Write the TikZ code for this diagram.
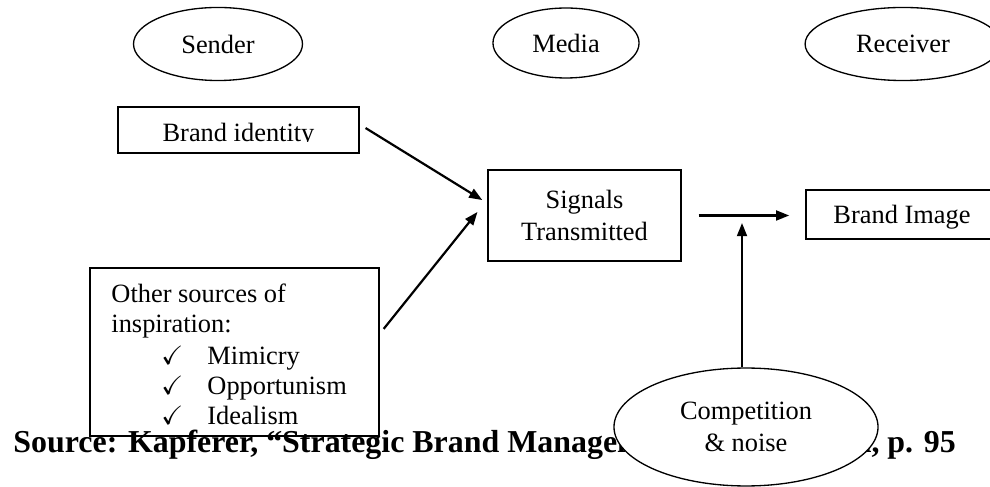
\documentclass[tikz,border=0pt]{standalone}
\usepackage{fontspec}
\setmainfont{Liberation Serif}
\usepackage{amssymb}
\usetikzlibrary{shapes.geometric,arrows.meta}

\tikzset{
	txt/.style={font=\fontsize{12pt}{14.5pt}\selectfont, inner sep=0pt},
	role/.style={txt, ellipse, draw, fill=white, line width=0.6pt, align=center},
	box/.style={txt, rectangle, draw, line width=0.6pt, align=center},
	flow/.style={-{Triangle[length=6pt,width=4.5pt]}, line width=1pt}
}

\begin{document}
\begin{tikzpicture}[x=0.4545pt, y=-0.4545pt]
	\clip (0,0) rectangle (990,487);
	%parties
	\node[role, minimum width=76.8pt, minimum height=33.2pt] (sender) at (218,44) {Sender};
	\node[role, minimum width=66.4pt, minimum height=31.8pt] (media) at (566,43) {Media};
	\node[role, minimum width=89pt, minimum height=33.2pt] (receiver) at (903,44) {Receiver};
	
	%boxes
	\node[box, minimum width=109.5pt, minimum height=20.9pt] (brandid) at (238.5,130) {};
	\begin{scope}
		\clip (118,107) rectangle (359,142);
		\node[txt, anchor=base] (brandidtext) at (238.5,142) {Brand identity};
	\end{scope}
	\node[box, minimum width=87.7pt, minimum height=41.4pt] (signals) at (584.5,215.5) {Signals\\Transmitted};
	\node[box, text depth=0pt, minimum width=87.3pt, minimum height=22.3pt] (brandimg) at (902,214.5) {Brand Image};
	\node[box, minimum width=131.4pt, minimum height=76.4pt] (other) at (234.5,352) {};
	\node[txt, anchor=base west] (othertitle) at (111,303) {Other sources of};
	\node[txt, anchor=base west] (otherinsp) at (111,333) {inspiration:};
	\foreach \word [count=\i] in {Mimicry, Opportunism, Idealism}{
		\node[txt, anchor=base west] (tick\i) at (161, 335+30*\i) {$\checkmark$};
		\node[txt, anchor=base west] (item\i) at (207, 335+30*\i) {\word};
	}
	
	%source line, partly hidden
	\node[anchor=base west, inner sep=0pt, font=\bfseries\fontsize{14.5pt}{17pt}\selectfont] (source) at (13,453)
		{Source: Kapferer, “Strategic Brand Management”, 2nd edition, p. 95};
	\node[role, minimum width=120pt, minimum height=53.6pt] (compet) at (746,427) {Competition\\\& noise};
	
	%arrows
	\draw[flow] ([xshift=2.7pt,yshift=0.9pt]brandid.east) -- ([xshift=-2.3pt,yshift=7pt]signals.west);
	\draw[flow] ([xshift=1.8pt,yshift=10.5pt]other.east) -- ([xshift=-4.5pt,yshift=1.6pt]signals.west);
	\draw[flow] ([xshift=7.7pt]signals.east) -- ([xshift=-7.3pt]signals.east -| brandimg.west);
	\coordinate (noisein) at (742,223);
	\draw[flow] (compet.north -| noisein) -- (noisein);
\end{tikzpicture}
\end{document}
